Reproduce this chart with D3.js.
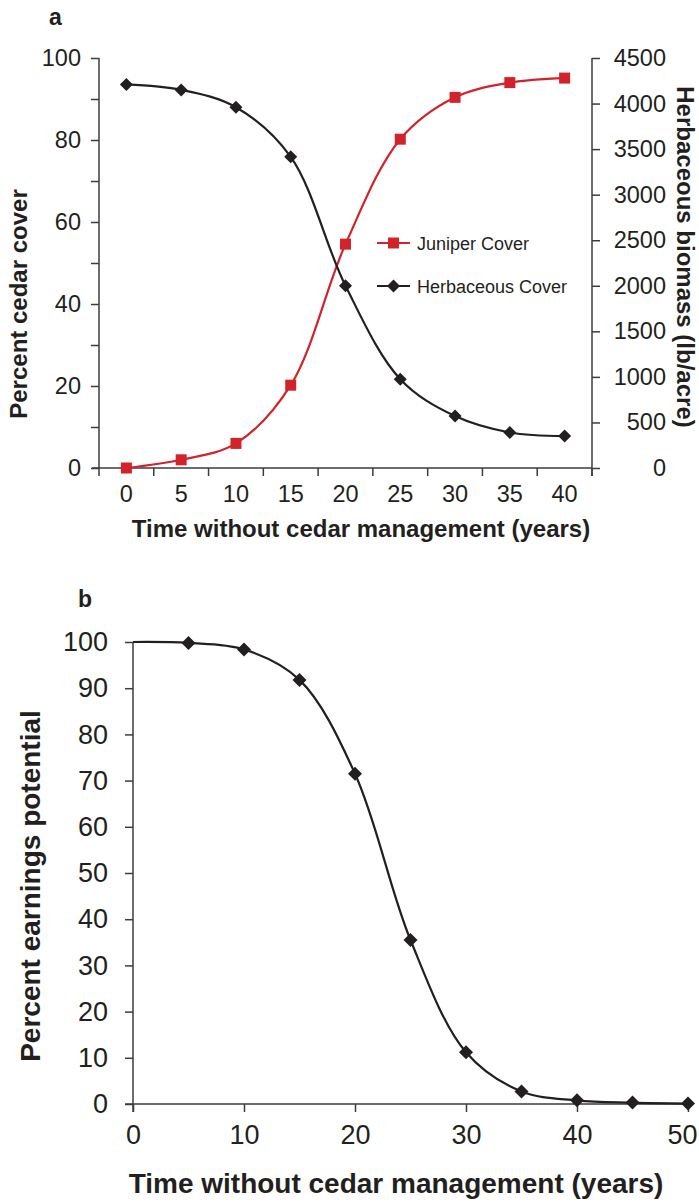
<!DOCTYPE html>
<html>
<head>
<meta charset="utf-8">
<script src="https://cdn.jsdelivr.net/npm/d3@7"></script>
<style>
  body { margin: 0; background: #fff; }
  svg { display: block; font-family: "Liberation Sans", Arial, sans-serif; }
</style>
</head>
<body>
<svg id="chart"></svg>
<script>
// panel a data
const yearsA = [0, 5, 10, 15, 20, 25, 30, 35, 40]
const juniperCover = [0, 2, 6, 20.2, 54.6, 80.2, 90.4, 94, 95.1]
const herbBiomass = [4210, 4150, 3960, 3415, 2000, 975, 570, 390, 350]
const leftTicksA = [0, 20, 40, 60, 80, 100]
const rightTicksA = [0, 500, 1000, 1500, 2000, 2500, 3000, 3500, 4000, 4500]

// panel b data
const yearsB = [0, 5, 10, 15, 20, 25, 30, 35, 40, 45, 50]
const earnings = [100, 99.8, 98.4, 91.8, 71.5, 35.5, 11.2, 2.7, 0.8, 0.3, 0.1]
const xTicksB = [0, 10, 20, 30, 40, 50]
const yTicksB = [0, 10, 20, 30, 40, 50, 60, 70, 80, 90, 100]

const ink = "#231f20"
const red = "#d2232a"
const axisCol = "#3c3c3c"

const svg = d3.select("#chart").attr("width", 699).attr("height", 1203)

function styleAxis(g, size) {
  g.select(".domain").attr("stroke", axisCol).attr("stroke-width", 1.5)
  g.selectAll(".tick line").attr("stroke", axisCol).attr("stroke-width", 1.5)
  g.selectAll(".tick text").attr("fill", ink).style("font-size", size + "px")
  g.attr("font-family", null)
}

function diamond(sel, s) {
  return sel.attr("d", `M0,${-s}L${s},0L0,${s}L${-s},0Z`)
}

// ---------- panel a ----------
const xA = d3.scaleBand().domain(yearsA).range([99, 592])
const yA = d3.scaleLinear().domain([0, 100]).range([468, 58])
const yA2 = d3.scaleLinear().domain([0, 4500]).range([468, 58])
const cx = d => xA(d) + xA.bandwidth() / 2

const gA = svg.append("g")

// x axis: ticks at band edges, labels at centres
const xEdges = yearsA.map(d => xA(d)).concat([xA(40) + xA.bandwidth()])
gA.append("line").attr("x1", 92).attr("x2", 592).attr("y1", 468).attr("y2", 468)
  .attr("stroke", axisCol).attr("stroke-width", 1.5)
gA.selectAll(".xt").data(xEdges).join("line")
  .attr("x1", d => d).attr("x2", d => d).attr("y1", 468).attr("y2", 476)
  .attr("stroke", axisCol).attr("stroke-width", 1.5)
gA.selectAll(".xl").data(yearsA).join("text")
  .attr("x", d => cx(d)).attr("y", 502)
  .attr("text-anchor", "middle").attr("fill", ink).style("font-size", "23.5px")
  .text(d => d)

const leftAx = gA.append("g").attr("transform", "translate(99,0)")
  .call(d3.axisLeft(yA).tickValues(d3.range(0, 101, 10)).tickSize(8).tickPadding(10)
    .tickFormat(d => leftTicksA.includes(d) ? d : ""))
styleAxis(leftAx, 23.5)
leftAx.select(".domain").attr("d", "M0,468V58")

const rightAx = gA.append("g").attr("transform", "translate(592,0)")
  .call(d3.axisRight(yA2).tickValues(rightTicksA).tickSize(8).tickPadding(10)
    .tickFormat(d3.format("d")))
styleAxis(rightAx, 23.5)
rightAx.select(".domain").attr("d", "M0,476V58")
rightAx.selectAll(".tick text").attr("text-anchor", "end").attr("x", 74)

const line = d3.line().curve(d3.curveCatmullRom.alpha(0.5))

gA.append("path")
  .attr("d", line(yearsA.map((d, i) => [cx(d), yA(juniperCover[i])])))
  .attr("fill", "none").attr("stroke", red).attr("stroke-width", 2.2)
gA.append("path")
  .attr("d", line(yearsA.map((d, i) => [cx(d), yA2(herbBiomass[i])])))
  .attr("fill", "none").attr("stroke", ink).attr("stroke-width", 2.2)

gA.selectAll(".sq").data(yearsA).join("rect")
  .attr("x", d => cx(d) - 5.5).attr("y", (d, i) => yA(juniperCover[i]) - 5.5)
  .attr("width", 11).attr("height", 11).attr("fill", red)
gA.selectAll(".dm").data(yearsA).join("path")
  .call(diamond, 6.5)
  .attr("transform", (d, i) => `translate(${cx(d)},${yA2(herbBiomass[i])})`)
  .attr("fill", ink)

// legend
const legend = gA.append("g").attr("transform", "translate(377,0)")
const legItems = [
  { name: "Juniper Cover", color: red, y: 243, shape: "sq" },
  { name: "Herbaceous Cover", color: ink, y: 286, shape: "dm" }
]
legItems.forEach(it => {
  legend.append("line").attr("x1", 0).attr("x2", 33).attr("y1", it.y).attr("y2", it.y)
    .attr("stroke", it.color).attr("stroke-width", 2.2)
  if (it.shape === "sq") {
    legend.append("rect").attr("x", 11).attr("y", it.y - 5.5).attr("width", 11).attr("height", 11).attr("fill", it.color)
  } else {
    legend.append("path").call(diamond, 6.5).attr("transform", `translate(16.5,${it.y})`).attr("fill", it.color)
  }
  legend.append("text").attr("x", 40).attr("y", it.y + 6.5)
    .attr("fill", ink).style("font-size", "18px").text(it.name)
})

gA.append("text").attr("x", 49).attr("y", 25).attr("fill", ink)
  .style("font-size", "23px").style("font-weight", "bold").text("a")
gA.append("text").attr("transform", "translate(27,304) rotate(-90)")
  .attr("text-anchor", "middle").attr("fill", ink)
  .style("font-size", "24px").style("font-weight", "bold").text("Percent cedar cover")
gA.append("text").attr("transform", "translate(677,257) rotate(90)")
  .attr("text-anchor", "middle").attr("fill", ink)
  .style("font-size", "24px").style("font-weight", "bold").text("Herbaceous biomass (lb/acre)")
gA.append("text").attr("x", 361).attr("y", 537)
  .attr("text-anchor", "middle").attr("fill", ink)
  .style("font-size", "24px").style("font-weight", "bold").text("Time without cedar management (years)")

// ---------- panel b ----------
const xB = d3.scaleLinear().domain([0, 50]).range([133, 688])
const yB = d3.scaleLinear().domain([0, 100]).range([1104, 642])
const gB = svg.append("g")

const xAxB = gB.append("g").attr("transform", "translate(0,1104)")
  .call(d3.axisBottom(xB).tickValues(xTicksB).tickSize(8).tickPadding(13))
styleAxis(xAxB, 27)
xAxB.select(".domain").attr("d", "M125,0H688")
xAxB.selectAll(".tick text").filter(d => d === 50).attr("x", -6)

const yAxB = gB.append("g").attr("transform", "translate(133,0)")
  .call(d3.axisLeft(yB).tickValues(yTicksB).tickSize(8).tickPadding(17))
styleAxis(yAxB, 27)
yAxB.select(".domain").attr("d", "M0,1112V642")

gB.append("path")
  .attr("d", line(yearsB.map((d, i) => [xB(d), yB(earnings[i])])))
  .attr("fill", "none").attr("stroke", ink).attr("stroke-width", 2.2)
gB.selectAll(".dm").data(yearsB.slice(1)).join("path")
  .call(diamond, 7)
  .attr("transform", (d, i) => `translate(${xB(d)},${yB(earnings[i + 1])})`)
  .attr("fill", ink)

gB.append("text").attr("x", 78).attr("y", 607).attr("fill", ink)
  .style("font-size", "23px").style("font-weight", "bold").text("b")
gB.append("text").attr("transform", "translate(40,886) rotate(-90)")
  .attr("text-anchor", "middle").attr("fill", ink)
  .style("font-size", "28px").style("font-weight", "bold").text("Percent earnings potential")
gB.append("text").attr("x", 396).attr("y", 1193)
  .attr("text-anchor", "middle").attr("fill", ink)
  .style("font-size", "28px").style("font-weight", "bold").text("Time without cedar management (years)")
</script>
</body>
</html>
